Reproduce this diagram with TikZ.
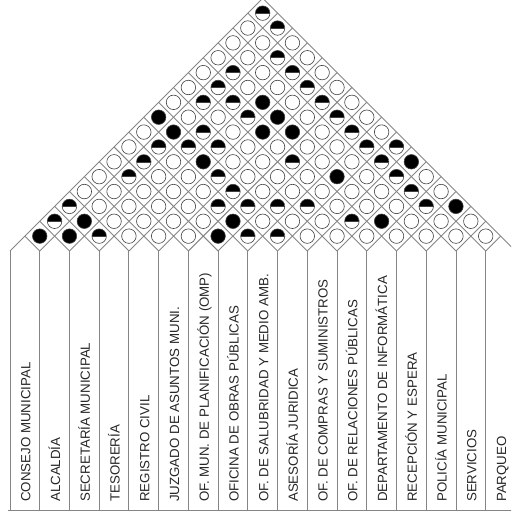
\documentclass[tikz,border=0pt]{standalone}
\usepackage{fontspec}
\setmainfont{Liberation Sans}
\definecolor{gridgray}{HTML}{858585}
\definecolor{txtgray}{HTML}{262626}
\definecolor{ringgray}{HTML}{404040}
\newcommand\mycellrow[2]{%
  \foreach \t [count=\k] in {#2} {
    \pgfmathtruncatemacro\j{#1+\k}
    \pgfmathsetmacro\cx{10+\hh*(#1+\j-1)}
    \pgfmathsetmacro\cy{265+\hh*(\j-#1)}
    \node[\t] (c-#1-\j) at (\cx,\cy) {};
  }}
\begin{document}
\begin{tikzpicture}[x=1pt,y=1pt,
  gridline/.style={draw=gridgray, line width=0.9pt, line join=miter},
  ce/.style={circle, draw=ringgray, line width=0.6pt, minimum size=14.5pt, inner sep=0pt, fill=white},
  cf/.style={ce, fill=black},
  ch/.style={ce, path picture={
      \fill[black] (path picture bounding box.west) rectangle (path picture bounding box.north east);
      \draw[ringgray, line width=0.6pt] (path picture bounding box.west) -- (path picture bounding box.east);}},
  lab/.style={rotate=90, anchor=west, inner sep=0pt, font=\fontsize{13.3}{14}\selectfont,
      text=txtgray, text height=9.5pt, text depth=0pt}
]
\useasboundingbox (0,0) rectangle (511,516);
\clip (0,0) rectangle (511,516);
\def\hh{14.865}
% column tops and diamond grid
\foreach \i in {1,...,17} {
  \pgfmathsetmacro\pc{10+\hh*(2*\i-1)}
  \pgfmathsetmacro\lb{10+2*\hh*(\i-1)}
  \pgfmathsetmacro\rb{10+2*\hh*\i}
  \pgfmathsetmacro\ur{\hh*(17-\i)}
  \pgfmathsetmacro\ul{\hh*(\i-1)}
  \coordinate (p-\i) at (\pc,279.865);
  \coordinate (bl-\i) at (\lb,265);
  \coordinate (br-\i) at (\rb,265);
  \coordinate (ur-\i) at (\pc+\ur,279.865+\ur);
  \coordinate (ul-\i) at (\pc-\ul,279.865+\ul);
  \draw[gridline] (bl-\i) -- (p-\i) -- (ur-\i);
  \draw[gridline] (br-\i) -- (p-\i) -- (ul-\i);
}
% column separators
\foreach \k in {0,...,17} {
  \pgfmathsetmacro\xk{10+2*\hh*\k}
  \coordinate (vt-\k) at (\xk,265);
  \coordinate (vb-\k) at (\xk,5.5);
  \draw[gridline] (vt-\k) -- (vb-\k);
}
\coordinate (bot-l) at (8,5.5);
\coordinate (bot-r) at (520,5.5);
\draw[gridline] (bot-l) -- (bot-r);
% relationship symbols
\mycellrow{1}{cf,ch,ch,ce,ce,ce,ce,ce,cf,ce,ce,ce,ce,ce,ce,ch}
\mycellrow{2}{cf,cf,ce,ce,ch,ch,ch,cf,ce,ch,ch,ch,ce,ce,ch}
\mycellrow{3}{ch,ce,ce,ce,ce,ce,ch,ch,ce,ch,ce,ce,ch,ce}
\mycellrow{4}{ce,ce,ce,ce,ce,cf,ch,ce,ch,cf,ce,ch,ce}
\mycellrow{5}{ce,ce,ce,ce,ch,ce,ce,cf,cf,ce,ch,ce}
\mycellrow{6}{ce,ce,ch,ch,ce,ce,ce,cf,ce,ch,ce}
\mycellrow{7}{cf,cf,ch,ce,ce,ch,ce,ce,ch,ce}
\mycellrow{8}{ch,ce,ch,ce,ce,ce,ce,ch,ce}
\mycellrow{9}{ch,ce,ch,ce,cf,ce,ch,ce}
\mycellrow{10}{ce,ce,ce,ce,ce,ch,ch}
\mycellrow{11}{ce,ch,ce,ce,ch,cf}
\mycellrow{12}{ce,cf,ce,ch,ce}
\mycellrow{13}{ce,ce,ch,ce}
\mycellrow{14}{ce,ce,cf}
\mycellrow{15}{ce,ce}
\mycellrow{16}{ce}
% labels
\foreach \name [count=\i] in {{CONSEJO MUNICIPAL},{ALCALDÍA},{SECRETARÍA MUNICIPAL},{TESORERÍA},
  {REGISTRO CIVIL},{JUZGADO DE ASUNTOS MUNI.},{OF. MUN. DE PLANIFICACIÓN (OMP)},
  {OFICINA DE OBRAS PÚBLICAS},{OF. DE SALUBRIDAD Y MEDIO AMB.},{ASESORÍA JURIDICA},
  {OF. DE COMPRAS Y SUMINISTROS},{OF. DE RELACIONES PÚBLICAS},{DEPARTAMENTO DE INFORMÁTICA},
  {RECEPCIÓN Y ESPERA},{POLICÍA MUNICIPAL},{SERVICIOS},{PARQUEO}} {
  \pgfmathsetmacro\lx{10+\hh*(2*\i-1)+0.8}
  \node[lab] (l-\i) at (\lx,14) {\name};
}
\end{tikzpicture}
\end{document}
